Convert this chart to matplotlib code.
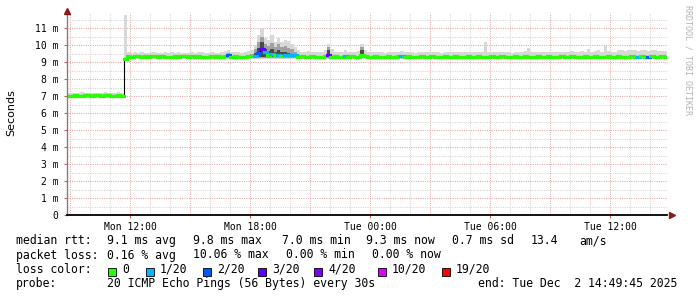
import matplotlib
matplotlib.use("Agg")
import matplotlib.pyplot as plt
from matplotlib.collections import LineCollection
import numpy as np

# ---------------- data (10-minute samples from Mon 08:49:45 to Tue 14:49:45) ----
t_start = 8 + 49.75 / 60.0          # hours since Mon 00:00
step_h = 1 / 6.0                     # 10 minutes

median = ([7.03, 7.02, 7.04, 7.03, 7.02, 7.05, 7.04, 7.03, 7.06, 7.04, 7.03, 7.05, 7.04, 7.02, 7.03, 7.04, 7.02]
          + [9.18]
          + [9.34, 9.33, 9.35, 9.34, 9.33, 9.34, 9.33, 9.35, 9.34, 9.33,
             9.34, 9.33, 9.32, 9.33, 9.34, 9.33, 9.35, 9.34, 9.33, 9.34,
             9.33, 9.34, 9.33, 9.32, 9.33, 9.34, 9.33, 9.34, 9.33, 9.34]
          + [9.42]
          + [9.33, 9.34, 9.33, 9.32, 9.33, 9.34, 9.36]
          + [9.38, 9.55, 9.75, 9.60, 9.45, 9.50, 9.40, 9.45, 9.38, 9.42, 9.42, 9.43, 9.40]
          + [9.33, 9.34, 9.33, 9.33, 9.34, 9.33, 9.32, 9.33, 9.34]
          + [9.45]
          + [9.33, 9.34, 9.33, 9.32, 9.36, 9.33, 9.34, 9.33, 9.33]
          + [9.42]
          + [9.34, 9.33, 9.33, 9.34, 9.33, 9.32, 9.33, 9.34, 9.33, 9.33,
             9.34, 9.36, 9.33, 9.34, 9.33, 9.32, 9.33, 9.34, 9.33, 9.33,
             9.34, 9.33, 9.32, 9.33, 9.34, 9.33, 9.33, 9.34, 9.33, 9.32,
             9.33, 9.34, 9.33, 9.33, 9.34, 9.33, 9.32, 9.33, 9.34, 9.33,
             9.33, 9.34, 9.33, 9.32, 9.33, 9.34, 9.33, 9.33, 9.34, 9.33,
             9.32, 9.33, 9.34, 9.33, 9.33, 9.34, 9.33, 9.32, 9.33, 9.34,
             9.33, 9.33, 9.34, 9.33, 9.32, 9.33, 9.34, 9.33, 9.33, 9.34,
             9.33, 9.32, 9.33, 9.34, 9.33, 9.33, 9.34, 9.33, 9.32, 9.33,
             9.34, 9.33, 9.31, 9.34, 9.33, 9.31, 9.34, 9.33, 9.33, 9.34, 9.33])

smoke_hi = ([7.18, 7.20, 7.17, 7.19, 7.22, 7.18, 7.20, 7.19, 7.21, 7.18, 7.20, 7.22, 7.19, 7.18, 7.20, 7.24, 7.19]
            + [11.8]
            + [9.62, 9.55, 9.58, 9.52, 9.60, 9.55, 9.53, 9.58, 9.62, 9.55,
               9.56, 9.60, 9.54, 9.58, 9.55, 9.60, 9.57, 9.53, 9.56, 9.60,
               9.55, 9.58, 9.62, 9.55, 9.57, 9.60, 9.54, 9.56, 9.58, 9.65]
            + [9.72]
            + [9.60, 9.58, 9.62, 9.55, 9.60, 9.65, 9.70]
            + [10.0, 10.6, 11.0, 10.4, 10.3, 10.6, 10.2, 10.4, 10.2, 10.3, 10.25, 10.1, 9.9]
            + [9.70, 9.62, 9.60, 9.65, 9.58, 9.60, 9.62, 9.58, 9.70]
            + [10.1]
            + [9.75, 9.60, 9.62, 9.58, 9.72, 9.60, 9.58, 9.62, 9.65]
            + [10.1]
            + [9.70, 9.62, 9.60, 9.58, 9.62, 9.60, 9.57, 9.60, 9.62, 9.58,
               9.60, 9.65, 9.58, 9.60, 9.62, 9.57, 9.60, 9.58, 9.62, 9.60,
               9.58, 9.60, 9.62, 9.57, 9.60, 9.58, 9.60, 9.62, 9.60, 9.58,
               9.60, 9.62, 9.58, 9.60, 9.62, 9.60, 10.2, 9.60, 9.58, 9.62,
               9.60, 9.58, 9.60, 9.62, 9.57, 9.60, 9.62, 9.60, 9.65, 9.85,
               9.62, 9.60, 9.58, 9.62, 9.60, 9.60, 9.62, 9.58, 9.60, 9.62,
               9.60, 9.62, 9.65, 9.60, 9.62, 9.65, 9.60, 9.75, 9.62, 9.65,
               9.70, 9.62, 9.95, 9.65, 9.62, 9.60, 9.70, 9.72, 9.68, 9.70,
               9.72, 9.70, 9.68, 9.72, 9.70, 9.68, 9.72, 9.70, 9.66, 9.65, 9.68])

smoke_lo = [6.92] * 17 + [9.05] + [9.20] * 162

# darker smoke (sample index -> upper bound)
mid_idx = [48, 55, 56, 57, 58, 59, 60, 61, 62, 63, 64, 65, 66, 67, 68, 78, 88]
mid_hi = [9.55, 9.50, 9.75, 10.2, 10.5, 10.1, 9.95, 10.15, 9.9, 10.05, 9.9, 9.95, 9.85, 9.75, 9.6, 9.9, 9.9]
dark_idx = [56, 57, 58, 59, 60, 61, 62, 63, 64, 65, 66, 78, 88]
dark_hi = [9.55, 9.85, 10.2, 9.8, 9.65, 9.8, 9.6, 9.7, 9.6, 9.6, 9.55, 9.7, 9.7]

# packet loss (sample index -> lost pings of 20)
loss_idx = [48, 56, 57, 58, 59, 61, 63, 65, 66, 67, 68, 78, 83, 100, 171, 174]
loss_val = [2, 1, 2, 3, 1, 1, 1, 1, 1, 1, 1, 3, 1, 1, 1, 2]

loss_levels = [0, 1, 2, 3, 4, 10, 19]
loss_labels = ["0", "1/20", "2/20", "3/20", "4/20", "10/20", "19/20"]
loss_colors = ["#26ff00", "#00b8ff", "#0059ff", "#5e00ff", "#7e00ff", "#dd00ff", "#ff0000"]

y_ticks = [0, 1, 2, 3, 4, 5, 6, 7, 8, 9, 10, 11]
y_ticklabels = ["0", "1 m", "2 m", "3 m", "4 m", "5 m", "6 m", "7 m", "8 m", "9 m", "10 m", "11 m"]
x_ticks = [12, 18, 24, 30, 36]
x_ticklabels = ["Mon 12:00", "Mon 18:00", "Tue 00:00", "Tue 06:00", "Tue 12:00"]

# ---------------- figure --------------------------------------------------------
W, H = 697, 297
fig = plt.figure(figsize=(W / 100, H / 100), dpi=100)
fig.patch.set_facecolor("white")
ax = fig.add_axes([67 / W, 82 / H, 600 / W, 202 / H])
ax.set_facecolor("white")

n = len(median)
edges = t_start + np.arange(n + 1) * step_h
t_left = edges[:-1]
t_right = edges[1:]
med = np.array(median)

mono = "DejaVu Sans Mono"

# grid
for h in range(9, 39):
    major = (h % 3 == 0)
    ax.axvline(h, color="#e6a8a8" if major else "#d4d4d4", lw=0.75,
               ls=(0, (1, 1.2)), zorder=1)
for v in np.arange(0.5, 12.0, 0.5):
    major = abs(v - round(v)) < 1e-6
    ax.axhline(v, color="#e6a8a8" if major else "#d4d4d4", lw=0.75,
               ls=(0, (1, 1.2)), zorder=1)

# smoke
ax.fill_between(edges, np.append(smoke_lo, smoke_lo[-1]), np.append(smoke_hi, smoke_hi[-1]),
                step="post", color="#d8d8d8", lw=0, zorder=2)
for i, v in zip(mid_idx, mid_hi):
    ax.fill_between([t_left[i], t_right[i]], [9.22, 9.22], [v, v], color="#a0a0a0", lw=0, zorder=3)
for i, v in zip(dark_idx, dark_hi):
    ax.fill_between([t_left[i], t_right[i]], [9.28, 9.28], [v, v], color="#4a4a4a", lw=0, zorder=4)

# median: thin black step line + thick loss-coloured segments
ax.step(edges, np.append(med, med[-1]), where="post", color="#000000", lw=0.8, zorder=5)
seg_colors = [loss_colors[0]] * n
for i, lv in zip(loss_idx, loss_val):
    seg_colors[i] = loss_colors[loss_levels.index(lv)]
segs = [[(a, m), (b, m)] for a, b, m in zip(t_left, t_right, med)]
lc = LineCollection(segs, colors=seg_colors, linewidths=2.3, capstyle="projecting", zorder=6)
ax.add_collection(lc)

# axes
ax.set_xlim(edges[0], edges[-1])
ax.set_ylim(0, 11.9)
ax.set_yticks(y_ticks)
ax.set_yticklabels(y_ticklabels, fontfamily=mono, fontsize=7)
ax.set_xticks(x_ticks)
ax.set_xticklabels(x_ticklabels, fontfamily=mono, fontsize=7)
ax.tick_params(axis="y", length=2, width=0.8, color="#c06060", pad=4)
ax.tick_params(axis="x", length=2, width=0.8, color="#c06060", pad=3)
for s in ["top", "right"]:
    ax.spines[s].set_visible(False)
ax.spines["left"].set_color("#808080")
ax.spines["left"].set_linewidth(1.0)
ax.spines["bottom"].set_color("#000000")
ax.spines["bottom"].set_linewidth(1.3)
ax.spines["left"].set_zorder(7)
ax.spines["bottom"].set_zorder(7)

# arrows
ax.plot([1.008], [0], marker=">", color="#8b1a1a", ms=4, transform=ax.transAxes, clip_on=False, zorder=8)
ax.plot([0], [1.008], marker="^", color="#8b1a1a", ms=4, transform=ax.transAxes, clip_on=False, zorder=8)


def px(x, y):
    return x / W, 1 - y / H


fig.text(*px(11, 113), "Seconds", rotation=90, ha="center", va="center",
         fontsize=8, fontfamily="DejaVu Sans")
fig.text(*px(688, 5), "RRDTOOL / TOBI OETIKER", rotation=270, ha="center", va="top",
         fontsize=6, fontfamily=mono, color="#b4b4b4")

fs = 8.3
rows = [
    (244, [(16, "median rtt:"), (107, "9.1 ms avg"), (193, "9.8 ms max"), (282, "7.0 ms min"),
           (366, "9.3 ms now"), (452, "0.7 ms sd"), (531, "13.4"), (579, "am/s")]),
    (258.5, [(16, "packet loss:"), (107, "0.16 % avg"), (193, "10.06 % max"), (286, "0.00 % min"),
             (372, "0.00 % now")]),
    (287, [(16, "probe:"), (107, "20 ICMP Echo Pings (56 Bytes) every 30s"),
           (478, "end: Tue Dec  2 14:49:45 2025")]),
]
for yb, items in rows:
    for x, s in items:
        fig.text(*px(x, yb), s, ha="left", va="baseline", fontsize=fs, fontfamily=mono)

fig.text(*px(16, 272.8), "loss color:", ha="left", va="baseline", fontsize=fs, fontfamily=mono)
sq_x = [108, 146, 203, 258, 314, 378, 442]
for x, c, lab in zip(sq_x, loss_colors, loss_labels):
    fx, fy = px(x, 276)
    fig.patches.append(plt.Rectangle((fx, fy), 8 / W, 8 / H, transform=fig.transFigure,
                                     facecolor=c, edgecolor="black", lw=0.6))
    fig.text(*px(x + 14, 272.8), lab, ha="left", va="baseline", fontsize=fs, fontfamily=mono)

fig.savefig("out.png", dpi=100, facecolor="white")
